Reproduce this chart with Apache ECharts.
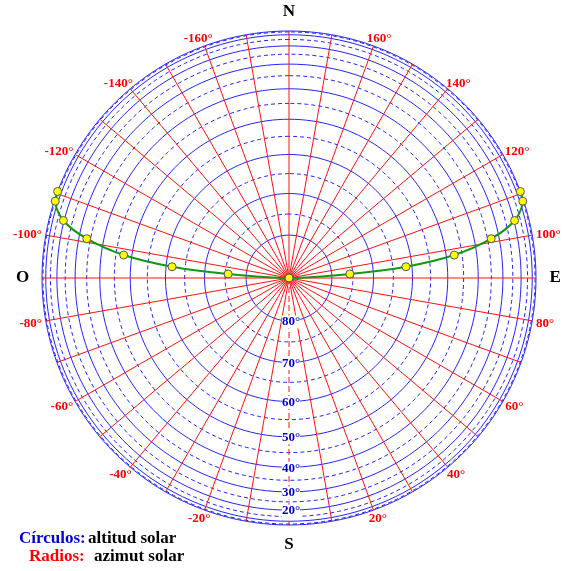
<!DOCTYPE html>
<html><head><meta charset="utf-8">
<script src="https://cdn.jsdelivr.net/npm/echarts@6/dist/echarts.min.js"></script>
<style>html,body{margin:0;padding:0;background:#fff}#c{width:568px;height:571px}</style>
</head><body><div id="c"></div>
<script>
// ---- data ----
const sunAzimuth  = [-110.5, -108.2, -104.3, -101.0, -97.9, -95.5, -93.8, 0, 93.8, 95.5, 97.9, 101.0, 104.3, 108.2, 110.5];
const sunAltitude = [0, 5, 19.5, 33.5, 47.5, 61.6, 75.7, 90, 75.7, 61.6, 47.5, 33.5, 19.5, 5, 0];
const solidAltitudes  = [0, 10, 20, 30, 40, 50, 60, 70, 80];
const dashedAltitudes = [5, 15, 25, 35, 45, 55, 65, 75];
const altitudeLabels  = [20, 30, 40, 50, 60, 70, 80];
const radialAzimuths  = [-170,-160,-150,-140,-130,-120,-110,-100,-90,-80,-70,-60,-50,-40,-30,-20,-10,0,10,20,30,40,50,60,70,80,90,100,110,120,130,140,150,160,170,180];
const azimuthLabels   = [-160,-140,-120,-100,-80,-60,-40,-20,20,40,60,80,100,120,140,160];
const cardinalNames   = ['N','S','E','O'];
const cardinalAzimuth = [180, 0, 90, -90];
const legendKeys   = ['Círculos:', 'Radios:'];
const legendValues = ['altitud solar', 'azimut solar'];

// ---- layout ----
const R = 247, RMAX = 1.1;
const CX = 289, CY = 278;
const toR = alt => Math.cos(alt * Math.PI / 180);
const SERIF = '"Liberation Serif","Times New Roman",serif';

const cvs = document.createElement('canvas').getContext('2d');
function textW(t, font){ cvs.font = font; return cvs.measureText(t).width; }

const circleAngles = [];
for (let a = -180; a <= 180; a += 2) circleAngles.push(a);

const series = [];
solidAltitudes.forEach(alt => series.push({
  type:'line', coordinateSystem:'polar', symbol:'none', silent:true, z:1, clip:false,
  lineStyle:{color:'#2424ff', width:1}, data: circleAngles.map(a => [toR(alt), a])
}));
dashedAltitudes.forEach(alt => series.push({
  type:'line', coordinateSystem:'polar', symbol:'none', silent:true, z:1, clip:false,
  lineStyle:{color:'#2424ff', width:1, type:[4,3]}, data: circleAngles.map(a => [toR(alt), a])
}));
radialAzimuths.forEach(az => series.push({
  type:'line', coordinateSystem:'polar', symbol:'none', silent:true, z:2, clip:false,
  lineStyle:{color:'#ff1010', width:1, type: az === 0 ? [6,3] : 'solid'}, data: [[0, az], [1, az]]
}));
// sun path
series.push({
  type:'line', coordinateSystem:'polar', z:5, smooth:0.3, clip:false,
  symbol:'circle', symbolSize:8,
  lineStyle:{color:'#119a11', width:2},
  itemStyle:{color:'#ffff00', borderColor:'#555', borderWidth:1},
  data: sunAzimuth.map((az, i) => [toR(sunAltitude[i]), az])
});
const noBorder = {textBorderWidth:0, textBorderColor:'transparent', textShadowBlur:0};
// azimuth labels
const azFont = 'bold 13px ' + SERIF;
series.push({
  type:'scatter', coordinateSystem:'polar', z:6, silent:true, clip:false,
  symbolSize:1, itemStyle:{color:'#fff', opacity:0},
  data: azimuthLabels.map(az => {
    const t = az + '°';
    const w = textW(t, azFont), h = 9;
    const s = Math.sin(az*Math.PI/180), c = Math.cos(az*Math.PI/180);
    return {value:[(R + 4) / R, az], label:Object.assign({show:true, position:'inside', formatter:t,
      offset:[w/2*s, h/2*c + 1], color:'#ff0000', opacity:1, fontFamily:SERIF, fontWeight:'bold', fontSize:13}, noBorder)};
  })
});
// altitude labels
series.push({
  type:'scatter', coordinateSystem:'polar', z:6, silent:true, clip:false,
  symbolSize:1, itemStyle:{color:'#fff', opacity:0},
  data: altitudeLabels.map(alt => ({value:[toR(alt), 0], label:Object.assign({show:true, position:'inside',
    formatter: alt + '°', offset:[2, 1], color:'#0000cc', opacity:1, fontFamily:SERIF, fontWeight:'bold', fontSize:13,
    backgroundColor:'#fff', padding:[0,0]}, noBorder)}))
});
// cardinal labels
series.push({
  type:'scatter', coordinateSystem:'polar', z:6, silent:true, clip:false,
  symbolSize:1, itemStyle:{color:'#fff', opacity:0},
  data: cardinalNames.map((n, i) => ({value:[1.078, cardinalAzimuth[i]], label:Object.assign({show:true, position:'inside',
    formatter:n, color:'#000', opacity:1, fontFamily:SERIF, fontWeight:'bold', fontSize:17}, noBorder)}))
});

const legendColors = ['#0000dd', '#ff0000'];
const legendX = [19, 29], legendValX = [88, 94], legendY = [539, 557];
const graphic = [];
legendKeys.forEach((k, i) => {
  graphic.push({type:'text', left:legendX[i], top:legendY[i]-9, style:{text:k, font:'bold 17px ' + SERIF, fill:legendColors[i]}});
  graphic.push({type:'text', left:legendValX[i], top:legendY[i]-9, style:{text:legendValues[i], font:'bold 17px ' + SERIF, fill:'#000'}});
});

const chart = echarts.init(document.getElementById('c'), null, {renderer:'canvas'});
chart.setOption({
  animation:false,
  backgroundColor:'#fff',
  polar:{center:[CX, CY], radius: R * RMAX},
  angleAxis:{type:'value', min:-180, max:180, startAngle:90, clockwise:false,
    axisLine:{show:false}, axisTick:{show:false}, axisLabel:{show:false}, splitLine:{show:false}},
  radiusAxis:{type:'value', min:0, max:RMAX,
    axisLine:{show:false}, axisTick:{show:false}, axisLabel:{show:false}, splitLine:{show:false}},
  series, graphic
});
</script></body></html>
